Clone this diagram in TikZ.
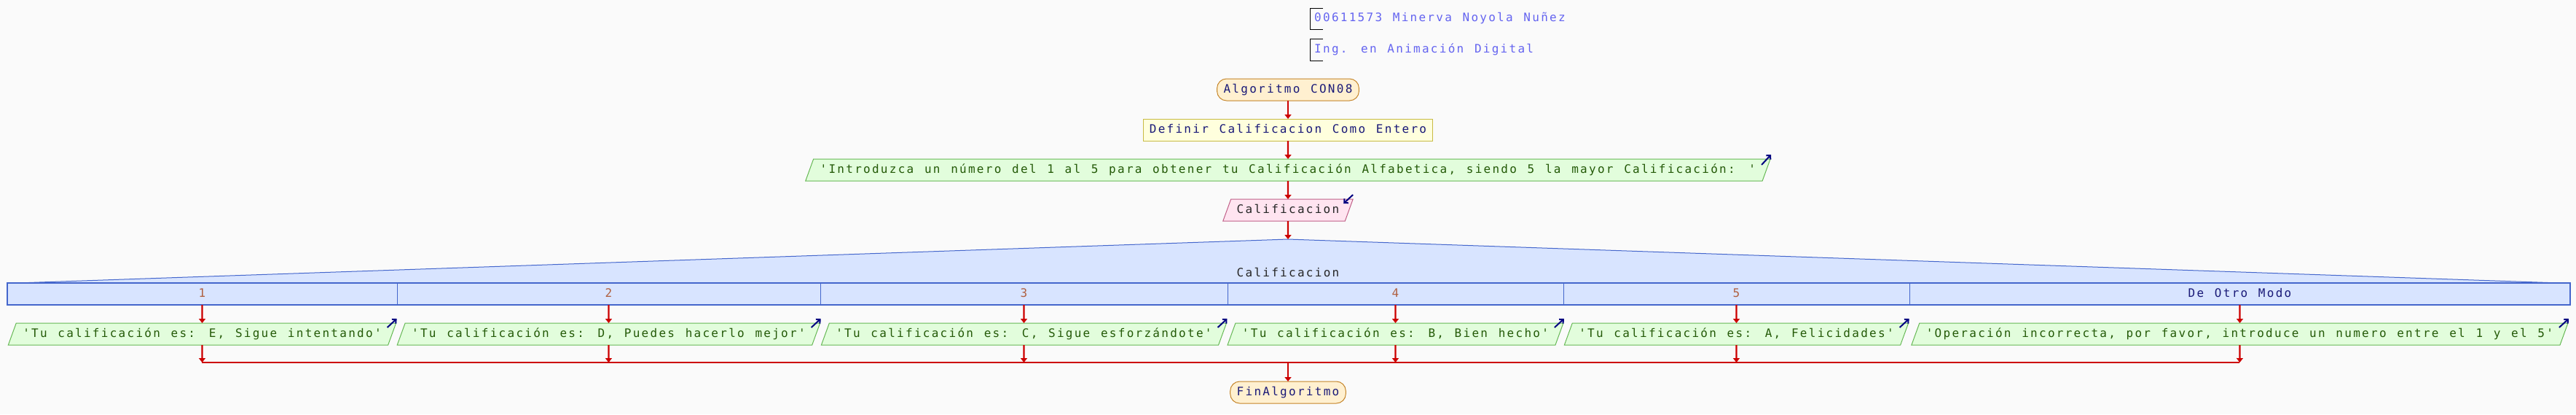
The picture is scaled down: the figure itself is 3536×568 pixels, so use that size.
\documentclass[tikz,border=0pt]{standalone}
\usepackage{fontspec}
\usetikzlibrary{positioning,arrows.meta,shapes.geometric,calc}

\newfontfamily\flujofont[LetterSpace=14.2,WordSpace={1.235,0,0}]{DejaVu Sans Mono}

\definecolor{bgcol}{HTML}{FAFAFA}
\definecolor{termfill}{HTML}{FFF0D0}
\definecolor{termdraw}{HTML}{C48428}
\definecolor{deffill}{HTML}{FFFFDD}
\definecolor{defdraw}{HTML}{C8BB44}
\definecolor{iofill}{HTML}{E2FDDC}
\definecolor{iodraw}{HTML}{66B855}
\definecolor{iotext}{HTML}{245A08}
\definecolor{infill}{HTML}{FFE4F0}
\definecolor{indraw}{HTML}{C06088}
\definecolor{swfill}{HTML}{D8E4FF}
\definecolor{swdraw}{HTML}{4466CC}
\definecolor{numtext}{HTML}{B06040}
\definecolor{navytext}{HTML}{1A1A78}
\definecolor{flowred}{HTML}{CC0000}
\definecolor{iconblue}{HTML}{000080}
\definecolor{commtext}{HTML}{6464F0}

\begin{document}
\begin{tikzpicture}[
    x=1pt, y=-1pt,
    font=\flujofont\fontsize{16}{19}\selectfont,
    node distance=25pt,
    caja/.style={text height=12pt, text depth=3pt, inner ysep=7.5pt, line width=1pt, outer sep=0pt},
    terminal/.style={caja, rectangle, draw=termdraw, fill=termfill, text=navytext, rounded corners=13pt, inner xsep=9pt},
    proceso/.style={caja, rectangle, draw=defdraw, fill=deffill, text=navytext, inner xsep=8pt},
    salida/.style={caja, trapezium, trapezium left angle=70, trapezium right angle=110, draw=iodraw, fill=iofill, text=iotext, inner xsep=9pt},
    entrada/.style={salida, draw=indraw, fill=infill, text=black!85, inner xsep=8pt},
    caso/.style={caja, rectangle, draw=swdraw, fill=swfill, inner xsep=0pt},
    comentario/.style={anchor=west, inner sep=0pt, text=commtext},
    arrow/.style={-{Triangle[length=6pt,width=9pt]}, line width=2.2pt, draw=flowred},
    flowline/.style={line width=2.2pt, draw=flowred},
    icono/.style={-{Straight Barb[length=4pt,width=8pt]}, line width=2pt, draw=iconblue},
    corchete/.style={draw=black, line width=1pt}
]

% Background
\fill[bgcol] (0,0) rectangle (3536,568);
\useasboundingbox (0,0) rectangle (3536,568);

% Comments
\node[comentario] (autor) at (1804,25) {00611573 Minerva Noyola Nuñez};
\draw[corchete] ([shift={(12,-14)}]autor.west) -| ([shift={(-6,15)}]autor.west) -- ++(18,0);
\node[comentario] (carrera) at (1804,68) {Ing. en Animación Digital};
\draw[corchete] ([shift={(12,-15)}]carrera.west) -| ([shift={(-6,15)}]carrera.west) -- ++(18,0);

% Start
\node[terminal] (inicio) at (1768,123) {Algoritmo CON08};
\node[proceso, below=of inicio] (definir) {Definir Calificacion Como Entero};
\node[salida, below=of definir] (mensaje) {'Introduzca un número del 1 al 5 para obtener tu Calificación Alfabetica, siendo 5 la mayor Calificación: '};
\node[entrada, below=of mensaje] (leer) {Calificacion};

\draw[arrow] (inicio) -- (definir);
\draw[arrow] (definir) -- (mensaje);
\draw[arrow] (mensaje) -- (leer);
\draw[icono] ([shift={(-12,8)}]mensaje.top right corner) -- ++(13,-14);
\draw[icono] ([shift={(0,-6)}]leer.top right corner) -- ++(-13,12);

% Segun
\coordinate (segun) at (1768,328);
\filldraw[fill=swfill, draw=swdraw, line width=1pt] (25,388) -- (segun) -- (3512,388) -- cycle;
\node[inner sep=0pt, text=black!85] (variable) at (1768,373) {Calificacion};
\draw[arrow] (leer) -- (segun);

\node[caso, minimum width=535pt, text=numtext] (caso1) at (277.5,403) {1};
\node[caso, minimum width=581pt, text=numtext] (caso2) at (835.5,403) {2};
\node[caso, minimum width=559pt, text=numtext] (caso3) at (1405.5,403) {3};
\node[caso, minimum width=461pt, text=numtext] (caso4) at (1915.5,403) {4};
\node[caso, minimum width=475pt, text=numtext] (caso5) at (2383.5,403) {5};
\node[caso, minimum width=907pt, text=navytext] (caso6) at (3074.5,403) {De Otro Modo};
\draw[swdraw, line width=1.2pt] (caso1.north west) rectangle (caso6.south east);

% Outputs
\node[salida, below=of caso1] (salida1) {'Tu calificación es: E, Sigue intentando'};
\node[salida, below=of caso2] (salida2) {'Tu calificación es: D, Puedes hacerlo mejor'};
\node[salida, below=of caso3] (salida3) {'Tu calificación es: C, Sigue esforzándote'};
\node[salida, below=of caso4] (salida4) {'Tu calificación es: B, Bien hecho'};
\node[salida, below=of caso5] (salida5) {'Tu calificación es: A, Felicidades'};
\node[salida, below=of caso6] (salida6) {'Operación incorrecta, por favor, introduce un numero entre el 1 y el 5'};

\draw[arrow] (caso1) -- (salida1);
\draw[arrow] (caso2) -- (salida2);
\draw[arrow] (caso3) -- (salida3);
\draw[arrow] (caso4) -- (salida4);
\draw[arrow] (caso5) -- (salida5);
\draw[arrow] (caso6) -- (salida6);

\draw[icono] ([shift={(-12,6)}]salida1.top right corner) -- ++(13,-12);
\draw[icono] ([shift={(-12,6)}]salida2.top right corner) -- ++(13,-12);
\draw[icono] ([shift={(-12,6)}]salida3.top right corner) -- ++(13,-12);
\draw[icono] ([shift={(-12,6)}]salida4.top right corner) -- ++(13,-12);
\draw[icono] ([shift={(-12,6)}]salida5.top right corner) -- ++(13,-12);
\draw[icono] ([shift={(-12,6)}]salida6.top right corner) -- ++(13,-12);

% Join
\coordinate (junta) at (1768,497);
\draw[flowline] (salida1 |- junta) -- (salida6 |- junta);
\draw[arrow] (salida1) -- (salida1 |- junta);
\draw[arrow] (salida2) -- (salida2 |- junta);
\draw[arrow] (salida3) -- (salida3 |- junta);
\draw[arrow] (salida4) -- (salida4 |- junta);
\draw[arrow] (salida5) -- (salida5 |- junta);
\draw[arrow] (salida6) -- (salida6 |- junta);

% End
\node[terminal] (fin) at (1768,538) {FinAlgoritmo};
\draw[arrow] (junta) -- (fin);

\end{tikzpicture}
\end{document}
